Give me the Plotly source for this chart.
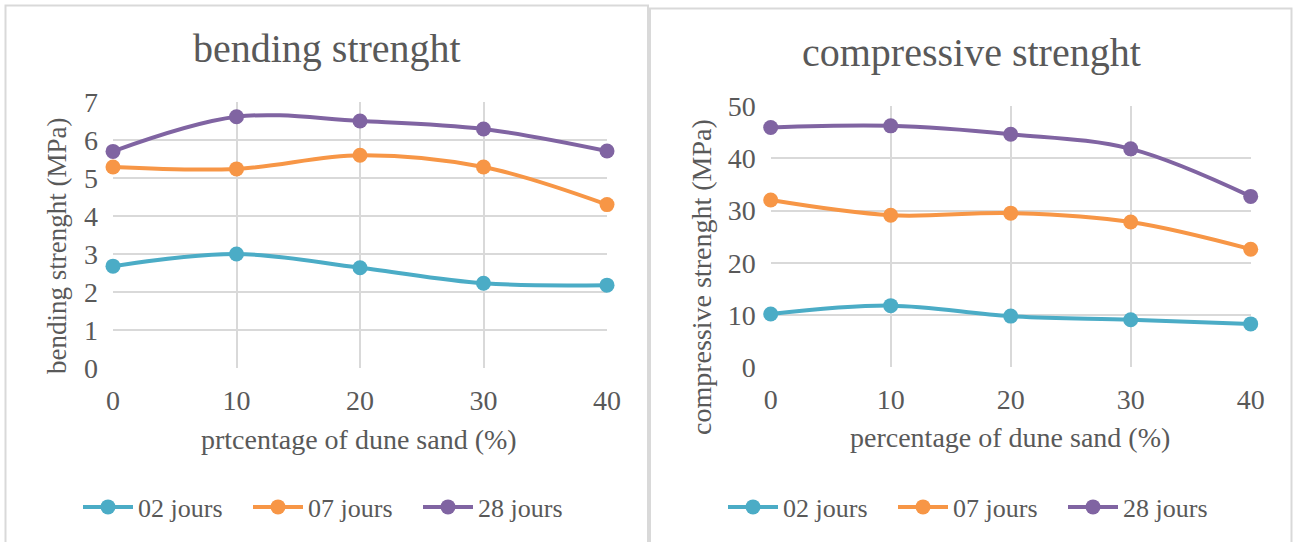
import plotly.graph_objects as go

# Dune sand replacement levels (%)
sand_pct = [0, 10, 20, 30, 40]

# Bending strength (MPa) per curing age
bend_02 = [2.68, 3.0, 2.64, 2.23, 2.18]
bend_07 = [5.29, 5.24, 5.6, 5.29, 4.3]
bend_28 = [5.7, 6.61, 6.5, 6.29, 5.71]

# Compressive strength (MPa) per curing age
comp_02 = [10.2, 11.8, 9.8, 9.1, 8.3]
comp_07 = [32.0, 29.1, 29.5, 27.8, 22.6]
comp_28 = [45.9, 46.2, 44.6, 41.8, 32.7]

series_names = ["02 jours", "07 jours", "28 jours"]
colors = ["#4BACC6", "#F79646", "#8064A2"]

W, H = 1294, 542
FONT = "Liberation Serif"
TXT = "#595959"
GRID = "#D9D9D9"


def px(x):
    return x / W


def py(y):
    return 1 - y / H


fig = go.Figure()

for vals, name, col in zip([bend_02, bend_07, bend_28], series_names, colors):
    fig.add_trace(go.Scatter(
        x=sand_pct, y=vals, name=name, mode="lines+markers",
        line=dict(color=col, width=4, shape="spline", smoothing=1),
        marker=dict(color=col, size=15),
        xaxis="x", yaxis="y", legend="legend", cliponaxis=False,
    ))

for vals, name, col in zip([comp_02, comp_07, comp_28], series_names, colors):
    fig.add_trace(go.Scatter(
        x=sand_pct, y=vals, name=name, mode="lines+markers",
        line=dict(color=col, width=4, shape="spline", smoothing=1),
        marker=dict(color=col, size=15),
        xaxis="x2", yaxis="y2", legend="legend2", cliponaxis=False,
    ))

axis_common = dict(
    showgrid=True, gridcolor=GRID, gridwidth=2,
    zeroline=False, showline=False,
    tickfont=dict(family=FONT, size=28, color=TXT),
    ticks="", fixedrange=True,
)

legend_common = dict(
    orientation="h", y=py(507), yanchor="middle", xanchor="center",
    font=dict(family=FONT, size=26, color=TXT), itemwidth=50,
    entrywidth=105, bgcolor="rgba(0,0,0,0)",
)

fig.update_layout(
    width=W, height=H,
    margin=dict(l=0, r=0, t=0, b=0, autoexpand=False),
    paper_bgcolor="white", plot_bgcolor="white",
    font=dict(family=FONT, color=TXT),
    xaxis=dict(domain=[px(113), px(607)], range=[0, 40], tickvals=sand_pct,
               anchor="y", ticklabelstandoff=13, **axis_common),
    yaxis=dict(domain=[py(368), py(102)], range=[0, 7], dtick=1,
               anchor="x", ticklabelstandoff=14, **axis_common),
    xaxis2=dict(domain=[px(770.7), px(1250.7)], range=[0, 40], tickvals=sand_pct,
                anchor="y2", ticklabelstandoff=13, **axis_common),
    yaxis2=dict(domain=[py(367.3), py(106)], range=[0, 50], dtick=10,
                anchor="x2", ticklabelstandoff=14, **axis_common),
    legend=dict(x=px(333), **legend_common),
    legend2=dict(x=px(978), **legend_common),
    showlegend=True,
)

# Chart frames
fig.add_shape(type="rect", xref="paper", yref="paper",
              x0=px(5.5), x1=px(648), y0=-0.2, y1=py(5.5),
              line=dict(color=GRID, width=2), layer="below")
fig.add_shape(type="rect", xref="paper", yref="paper",
              x0=px(650), x1=px(1291.5), y0=-0.2, y1=py(8.5),
              line=dict(color=GRID, width=2), layer="below")

# Titles and axis titles
texts = [
    ("bending strenght", 327, 48, 40, 0),
    ("compressive strenght", 971, 52, 40, 0),
    ("prtcentage of dune sand (%)", 359, 439, 28, 0),
    ("percentage of dune sand (%)", 1010, 437, 28, 0),
    ("bending strenght (MPa)", 57, 246, 27, -90),
    ("compressive strenght (MPa)", 701, 277, 28, -90),
]
for t, x, y, s, ang in texts:
    fig.add_annotation(text=t, x=px(x), y=py(y), xref="paper", yref="paper",
                       xanchor="center", yanchor="middle", showarrow=False,
                       textangle=ang, font=dict(family=FONT, size=s, color=TXT))

fig.write_html(
    "out.html",
    post_script="document.body.style.margin='0';document.body.style.overflow='hidden';",
)
